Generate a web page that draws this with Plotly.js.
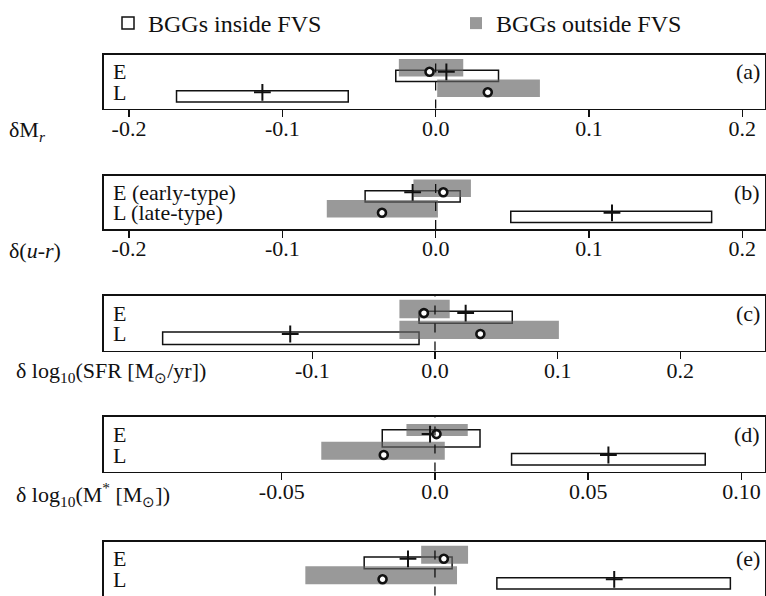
<!DOCTYPE html>
<html>
<head>
<meta charset="utf-8">
<script src="https://cdn.plot.ly/plotly-3.0.1.min.js"></script>
<style>html,body{margin:0;padding:0;background:#fff;}#chart{width:766px;height:596px;}</style>
</head>
<body>
<div id="chart"></div>
<script>
// ---------------- data ----------------
const rowCats = ['E', 'L'];
const panelTags = ['(a)', '(b)', '(c)', '(d)', '(e)'];
const rowLabels = [
  ['E', 'L'],
  ['E (early-type)', 'L (late-type)'],
  ['E', 'L'],
  ['E', 'L'],
  ['E', 'L']
];
const axisTitles = [
  'δM<sub><i>r</i></sub>',
  'δ(<i>u</i>-<i>r</i>)',
  'δ log<sub>10</sub>(SFR [M<sub>⊙</sub>/yr])',
  'δ log<sub>10</sub>(M<sup>*</sup> [M<sub>⊙</sub>])',
  ''
];
const seriesNames = ['BGGs inside FVS', 'BGGs outside FVS'];

// [E, L] per panel
const insideLo   = [[-0.026, -0.169], [-0.046, 0.049], [-0.013, -0.222], [-0.0172, 0.0250], [-0.0231, 0.0202]];
const insideHi   = [[ 0.041, -0.057], [ 0.016, 0.180], [ 0.063, -0.013], [ 0.0147, 0.0882], [ 0.0056, 0.0964]];
const insideMean = [[ 0.007, -0.113], [-0.015, 0.115], [ 0.025, -0.118], [-0.0016, 0.0566], [-0.0088, 0.0585]];
const outsideLo   = [[-0.024, 0.001], [-0.0145, -0.071], [-0.029, -0.029], [-0.0093, -0.0371], [-0.0045, -0.0423]];
const outsideHi   = [[ 0.018, 0.068], [ 0.023, 0.0015], [ 0.012, 0.101], [ 0.0107, 0.0032], [ 0.0108, 0.0072]];
const outsideMean = [[-0.004, 0.034], [ 0.005, -0.035], [-0.009, 0.037], [ 0.0005, -0.0167], [ 0.0029, -0.0171]];

const tickVals = [
  [-0.2, -0.1, 0, 0.1, 0.2],
  [-0.2, -0.1, 0, 0.1, 0.2],
  [-0.1, 0, 0.1, 0.2],
  [-0.05, 0, 0.05, 0.1],
  [-0.05, 0, 0.05, 0.1]
];
const tickText = [
  ['-0.2', '-0.1', '0.0', '0.1', '0.2'],
  ['-0.2', '-0.1', '0.0', '0.1', '0.2'],
  ['-0.1', '0.0', '0.1', '0.2'],
  ['-0.05', '0.0', '0.05', '0.10'],
  ['-0.05', '0.0', '0.05', '0.10']
];
const xRanges = [
  [-0.2163, 0.2148],
  [-0.2163, 0.2148],
  [-0.2698, 0.2690],
  [-0.1080, 0.1077],
  [-0.1080, 0.1077]
];

// ---------------- style ----------------
const W = 766, H = 596;
const FONT = 'Liberation Serif';
const INK = '#111';
const GREY = 'rgba(100,100,100,0.66)';
const panelPx = [[55, 108.5], [175.5, 229], [296, 350.5], [417, 471.5], [542, 595.5]];
const titleYpx = [131, 251, 372, 494, 0];
const xDomain = [104 / W, 765 / W];
const yRange = [-0.79, 1.82];
// bar thickness (category units) [E, L]
const insideW  = [[0.55, 0.55], [0.55, 0.55], [0.58, 0.6], [0.83, 0.55], [0.58, 0.55]];
const outsideW = [[0.86, 0.86], [0.86, 0.86], [0.88, 0.88], [0.58, 0.86], [0.88, 0.88]];

const traces = [];
const layout = {
  width: W, height: H,
  margin: {l: 0, r: 0, t: 0, b: 0, autoexpand: false},
  paper_bgcolor: '#fff', plot_bgcolor: 'rgba(0,0,0,0)',
  font: {family: FONT, color: INK, size: 22},
  showlegend: true,
  legend: {
    orientation: 'h', x: 108 / W, y: 1 - 1 / H, xanchor: 'left', yanchor: 'top',
    font: {family: FONT, size: 24, color: INK},
    entrywidth: 303, entrywidthmode: 'pixels', itemwidth: 30,
    bgcolor: 'rgba(0,0,0,0)', traceorder: 'normal'
  },
  annotations: [], shapes: [],
  hovermode: false
};

for (let p = 0; p < 5; p++) {
  const s = p === 0 ? '' : String(p + 1);
  const xa = 'x' + s, ya = 'y' + s;
  const yDom = [1 - panelPx[p][1] / H, 1 - panelPx[p][0] / H];

  layout['xaxis' + s] = {
    domain: xDomain, anchor: ya, range: xRanges[p],
    showgrid: false, zeroline: false,
    showline: true, mirror: true, linecolor: INK, linewidth: 1.6,
    ticks: 'outside', ticklen: 7, tickwidth: 1.4, tickcolor: INK,
    tickmode: 'array', tickvals: tickVals[p], ticktext: tickText[p],
    showticklabels: p < 4, ticklabelstandoff: -8,
    tickfont: {family: FONT, size: 22, color: INK}, fixedrange: true
  };
  layout['yaxis' + s] = {
    domain: yDom, anchor: xa, type: 'category',
    categoryorder: 'array', categoryarray: rowCats.slice().reverse(),
    range: yRange, showgrid: false, zeroline: false,
    showline: true, mirror: true, linecolor: INK, linewidth: 1.6,
    ticks: '', showticklabels: false, fixedrange: true
  };

  // inside FVS: white boxes
  traces.push({
    type: 'bar', orientation: 'h', xaxis: xa, yaxis: ya,
    name: seriesNames[0], legendgroup: 'in', showlegend: p === 0,
    y: rowCats, base: insideLo[p], x: insideHi[p].map((h, i) => h - insideLo[p][i]),
    width: insideW[p],
    marker: {color: '#ffffff', line: {color: INK, width: 1.5}}
  });
  // outside FVS: grey boxes
  traces.push({
    type: 'bar', orientation: 'h', xaxis: xa, yaxis: ya,
    name: seriesNames[1], legendgroup: 'out', showlegend: p === 0,
    y: rowCats, base: outsideLo[p], x: outsideHi[p].map((h, i) => h - outsideLo[p][i]),
    width: outsideW[p],
    marker: {color: GREY, line: {width: 0}}
  });
  // mean of inside: cross
  traces.push({
    type: 'scatter', mode: 'markers', xaxis: xa, yaxis: ya, showlegend: false,
    x: insideMean[p], y: rowCats,
    marker: {symbol: 'cross-thin', size: 12, line: {color: INK, width: 2}}
  });
  // mean of outside: open circle
  traces.push({
    type: 'scatter', mode: 'markers', xaxis: xa, yaxis: ya, showlegend: false,
    x: outsideMean[p], y: rowCats,
    marker: {symbol: 'circle', size: 8, color: '#fff', line: {color: INK, width: 2.6}}
  });

  // zero reference line
  layout.shapes.push({
    type: 'line', layer: 'above', xref: xa, yref: ya + ' domain',
    x0: 0, x1: 0, y0: 0, y1: 1,
    line: {color: INK, width: 1.3, dash: 'dash'}
  });

  // row labels
  rowLabels[p].forEach((lab, i) => {
    layout.annotations.push({
      xref: xa + ' domain', yref: ya, x: 0.011, y: 1 - i,
      xanchor: 'left', yanchor: 'middle', showarrow: false,
      text: lab, font: {family: FONT, size: 22, color: INK}
    });
  });
  // panel tag
  layout.annotations.push({
    xref: xa + ' domain', yref: ya, x: 0.996, y: 1,
    xanchor: 'right', yanchor: 'middle', showarrow: false,
    text: panelTags[p], font: {family: FONT, size: 22, color: INK}
  });
  // axis title (left)
  if (axisTitles[p]) {
    layout.annotations.push({
      xref: 'paper', yref: 'paper', x: (p < 2 ? 7 : 14) / W, y: 1 - titleYpx[p] / H,
      xanchor: 'left', yanchor: 'middle', showarrow: false,
      text: axisTitles[p], font: {family: FONT, size: 22, color: INK}
    });
  }
}

Plotly.newPlot('chart', traces, layout, {displayModeBar: false, staticPlot: true});
</script>
</body>
</html>
